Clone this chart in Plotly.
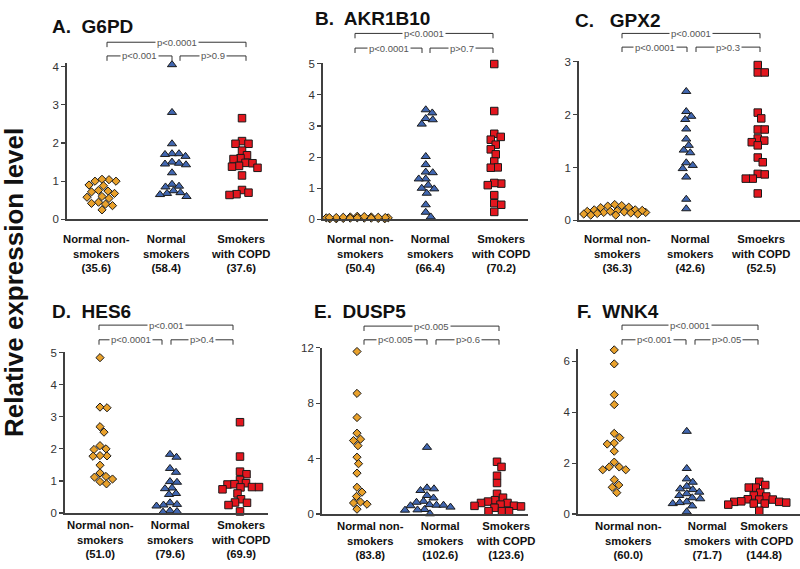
import plotly.graph_objects as go

# ---------------- data ----------------
group_names = ["Normal non-<br>smokers", "Normal<br>smokers", "Smokers<br>with COPD"]
group_names_c = ["Normal non-<br>smokers", "Normal<br>smokers", "Smoekrs<br>with COPD"]

panel_titles = ["A.  G6PD", "B.  AKR1B10", "C.   GPX2", "D.  HES6", "E.  DUSP5", "F.  WNK4"]

group_counts = [
    ["(35.6)", "(58.4)", "(37.6)"],
    ["(50.4)", "(66.4)", "(70.2)"],
    ["(36.3)", "(42.6)", "(52.5)"],
    ["(51.0)", "(79.6)", "(69.9)"],
    ["(83.8)", "(102.6)", "(123.6)"],
    ["(60.0)", "(71.7)", "(144.8)"],
]

p_values = [
    ["p<0.0001", "p<0.001", "p>0.9"],
    ["p<0.0001", "p<0.0001", "p>0.7"],
    ["p<0.0001", "p<0.0001", "p>0.3"],
    ["p<0.001", "p<0.0001", "p>0.4"],
    ["p<0.005", "p<0.005", "p>0.6"],
    ["p<0.0001", "p<0.001", "p>0.05"],
]

y_ticks = [
    [0, 1, 2, 3, 4],
    [0, 1, 2, 3, 4, 5],
    [0, 1, 2, 3],
    [0, 1, 2, 3, 4, 5],
    [0, 4, 8, 12],
    [0, 2, 4, 6],
]
y_max = [4.1, 5.03, 3.02, 5.03, 12.0, 6.5]

A_nn = [1.04, 1.0, 1.05, 1.0, 0.9, 0.88, 0.76, 0.72, 0.74, 0.68, 0.6, 0.58, 0.55, 0.45, 0.42, 0.4, 0.36, 0.25]
A_ns = [4.05, 2.8, 1.98, 1.72, 1.72, 1.7, 1.65, 1.5, 1.47, 1.45, 1.43, 1.22, 0.92, 0.87, 0.85, 0.75, 0.7, 0.68, 0.65, 0.6]
A_copd = [2.65, 2.05, 1.98, 1.98, 1.8, 1.68, 1.6, 1.58, 1.48, 1.47, 1.4, 1.38, 1.35, 1.15, 0.77, 0.7, 0.66, 0.64]

B_nn = [0.02, 0.05, 0.08, 0.03, 0.06, 0.04, 0.07, 0.1, 0.05, 0.02, 0.06, 0.08, 0.04, 0.09, 0.03, 0.05, 0.07, 0.02, 0.04, 0.06]
B_ns = [3.52, 3.42, 3.24, 3.2, 3.06, 2.02, 1.76, 1.52, 1.5, 1.3, 1.3, 1.1, 1.0, 0.98, 0.84, 0.47, 0.23, 0.08]
B_copd = [4.99, 3.48, 2.75, 2.65, 2.56, 2.4, 2.25, 2.09, 1.86, 1.67, 1.66, 1.15, 1.17, 1.1, 0.78, 0.52, 0.47, 0.24]

C_nn = [0.3, 0.28, 0.27, 0.25, 0.24, 0.2, 0.2, 0.18, 0.17, 0.16, 0.15, 0.15, 0.14, 0.13, 0.12, 0.12, 0.1, 0.1, 0.17, 0.19]
C_ns = [2.44, 2.06, 1.97, 1.91, 1.73, 1.54, 1.42, 1.33, 1.28, 1.09, 1.04, 0.98, 0.82, 0.4, 0.22]
C_copd = [2.94, 2.8, 2.8, 2.04, 1.93, 1.72, 1.72, 1.55, 1.51, 1.48, 1.42, 1.19, 1.1, 0.88, 0.87, 0.79, 0.79, 0.51]

D_nn = [4.84, 3.3, 3.28, 2.69, 2.52, 2.1, 2.0, 1.98, 1.78, 1.79, 1.77, 1.49, 1.25, 1.14, 1.12, 1.06, 0.98, 0.91]
D_ns = [1.83, 1.74, 1.39, 1.27, 0.98, 0.96, 0.78, 0.76, 0.61, 0.58, 0.32, 0.27, 0.25, 0.22, 0.07, 0.05, 0.03]
D_copd = [2.83, 1.76, 1.29, 1.21, 1.03, 0.93, 0.89, 0.9, 0.81, 0.81, 0.8, 0.74, 0.61, 0.43, 0.32, 0.33, 0.25, 0.05]

E_nn = [11.72, 8.7, 6.96, 5.83, 5.4, 5.3, 4.93, 4.1, 3.63, 2.95, 1.93, 1.58, 1.27, 0.87, 0.8, 0.71, 0.35]
E_ns = [4.81, 1.89, 1.82, 1.7, 1.34, 1.16, 0.92, 0.85, 0.68, 0.64, 0.6, 0.64, 0.5, 0.33, 0.28, 0.3, 0.02]
E_copd = [3.77, 3.4, 2.76, 2.24, 1.46, 1.18, 1.0, 0.9, 0.8, 0.8, 0.68, 0.59, 0.6, 0.55, 0.45, 0.21, 0.21, 0.2]

F_nn = [6.45, 5.9, 4.69, 4.3, 3.17, 3.0, 2.79, 2.75, 2.47, 2.04, 1.85, 1.85, 1.74, 1.74, 1.35, 1.14, 1.05, 0.84]
F_ns = [3.25, 1.79, 1.38, 1.25, 1.09, 0.99, 0.96, 0.86, 0.8, 0.73, 0.64, 0.6, 0.48, 0.41, 0.32, 0.45, 0.09]
F_copd = [1.27, 1.14, 1.04, 1.04, 0.84, 0.69, 0.73, 0.57, 0.58, 0.57, 0.41, 0.48, 0.48, 0.5, 0.45, 0.41, 0.37, 0.13]

panel_data = [
    [A_nn, A_ns, A_copd],
    [B_nn, B_ns, B_copd],
    [C_nn, C_ns, C_copd],
    [D_nn, D_ns, D_copd],
    [E_nn, E_ns, E_copd],
    [F_nn, F_ns, F_copd],
]

# ---------------- layout (pixels) ----------------
W, H = 800, 569
geom = [
    dict(x0=67, x1=268, k=70.0, yb=218, yt=58),
    dict(x0=323, x1=528, k=68.5, yb=218, yt=58),
    dict(x0=579, x1=800, k=71.5, yb=219, yt=56),
    dict(x0=65, x1=268, k=70.0, yb=518, yt=353),
    dict(x0=322, x1=528, k=70.0, yb=519, yt=349),
    dict(x0=578, x1=800, k=72.5, yb=519, yt=350),
]
brackets = [
    (37, 51, 107, 172, 180, 246),
    (28, 43, 355, 422, 430, 493),
    (28, 42, 622, 687, 696, 760),
    (326, 341, 99, 162, 171, 233),
    (327, 341, 364, 427, 436, 499),
    (326, 341, 622, 686, 695, 758),
]
title_pos = [(50, 21), (313, 13), (573, 15), (50, 312), (312, 312), (575, 312)]
label_x = [
    (96, 166, 240),
    (360, 430, 500),
    (617, 690, 760),
    (100, 170, 240),
    (370, 440, 505),
    (628, 707, 763),
]
label_y = [238, 238, 238, 530, 531, 531]

colors = ["#E9A12B", "#4167B1", "#E3161E"]
symbols = ["diamond", "triangle-up", "square"]
sizes = [6.3, 8, 7.5]


def px_x(x):
    return x / W


def px_y(y):
    return 1 - y / H


def swarm(vals, ppu, k, D=6.8, half=31.0):
    ys = [v * ppu for v in vals]
    order = sorted(range(len(vals)), key=lambda i: -vals[i])
    cands = [c * 0.5 for c in range(int(-2 * half), int(2 * half) + 1)]
    cands.sort(key=lambda c: (abs(c), -c))
    placed = []
    offs = [0.0] * len(vals)
    for i in order:
        y = ys[i]
        best = None
        for c in cands:
            cost = 0.0
            for (px, py) in placed:
                d = ((c - px) ** 2 + (y - py) ** 2) ** 0.5
                if d < D:
                    cost += D - d
            if best is None or cost < best[0] - 1e-9:
                best = (cost, c)
            if cost == 0:
                break
        offs[i] = best[1] / k
        placed.append((best[1], y))
    return offs


fig = go.Figure()
shapes = []
annotations = []
line_col = "#333333"
axis_col = "#404040"

for p in range(6):
    g = geom[p]
    ax = "" if p == 0 else str(p + 1)
    xr = [0.5, 0.5 + (g["x1"] - g["x0"]) / g["k"]]
    ppu = (g["yb"] - g["yt"]) / y_max[p]
    for gi in range(3):
        vals = panel_data[p][gi]
        offs = swarm(vals, ppu, g["k"])
        xs = [gi + 1 + o for o in offs]
        fig.add_trace(go.Scatter(
            x=xs, y=vals, mode="markers", xaxis="x" + ax, yaxis="y" + ax,
            cliponaxis=False, hoverinfo="skip",
            marker=dict(symbol=symbols[gi], size=sizes[gi], color=colors[gi],
                        line=dict(color="#1a1a1a", width=1)),
        ))
    fig.layout["xaxis" + ax] = dict(
        domain=[px_x(g["x0"]), px_x(g["x1"])], range=xr, anchor="y" + ax,
        showline=True, linecolor=axis_col, linewidth=1.8, showgrid=False,
        zeroline=False, showticklabels=False, ticks="", fixedrange=True,
    )
    fig.layout["yaxis" + ax] = dict(
        domain=[px_y(g["yb"]), px_y(g["yt"])], range=[0, y_max[p]], anchor="x" + ax,
        showline=True, linecolor=axis_col, linewidth=1.8, showgrid=False,
        zeroline=False, ticks="outside", ticklen=4, tickwidth=1.2, tickcolor=axis_col,
        tickvals=y_ticks[p], ticktext=[str(t) for t in y_ticks[p]],
        tickfont=dict(size=11.5, color="#333333"), fixedrange=True,
    )

    tx, ty = title_pos[p]
    annotations.append(dict(
        text="<b>" + panel_titles[p] + "</b>", x=px_x(tx), y=px_y(ty), xref="paper", yref="paper",
        xanchor="left", yanchor="middle", showarrow=False,
        font=dict(size=19, color="#111111"),
    ))

    yt, yl, xl, xml, xmr, xrr = brackets[p]
    tick = 5
    segs = [(xl, xrr, yt, p_values[p][0]), (xl, xml, yl, p_values[p][1]), (xmr, xrr, yl, p_values[p][2])]
    for (a, b, yy, txt) in segs:
        path = "M {},{} L {},{} L {},{} L {},{}".format(
            px_x(a), px_y(yy + tick), px_x(a), px_y(yy), px_x(b), px_y(yy), px_x(b), px_y(yy + tick))
        shapes.append(dict(type="path", path=path, xref="paper", yref="paper",
                           line=dict(color=line_col, width=1)))
        annotations.append(dict(
            text=txt, x=px_x((a + b) / 2), y=px_y(yy), xref="paper", yref="paper",
            xanchor="center", yanchor="middle", showarrow=False, bgcolor="white",
            borderpad=1, font=dict(size=9.5, color="#555555"),
        ))

    names = group_names_c if p == 2 else group_names
    for gi in range(3):
        annotations.append(dict(
            text="<b>" + names[gi] + "<br>" + group_counts[p][gi] + "</b>",
            x=px_x(label_x[p][gi]), y=px_y(label_y[p] - 8), xref="paper", yref="paper",
            xanchor="center", yanchor="top", showarrow=False, align="center",
            font=dict(size=11.3, color="#111111"),
        ))

annotations.append(dict(
    text="<b>Relative expression level</b>", x=px_x(14), y=px_y(283), xref="paper", yref="paper",
    xanchor="center", yanchor="middle", showarrow=False, textangle=-90,
    font=dict(size=26, color="#111111"),
))

fig.update_layout(
    width=W, height=H, margin=dict(l=0, r=0, t=0, b=0),
    paper_bgcolor="white", plot_bgcolor="white", showlegend=False,
    font=dict(family="Liberation Sans, Arial, sans-serif"),
    shapes=shapes, annotations=annotations,
)

fig.write_html("out.html", config={"displayModeBar": False, "staticPlot": True},
               post_script="document.body.style.margin='0px';")
